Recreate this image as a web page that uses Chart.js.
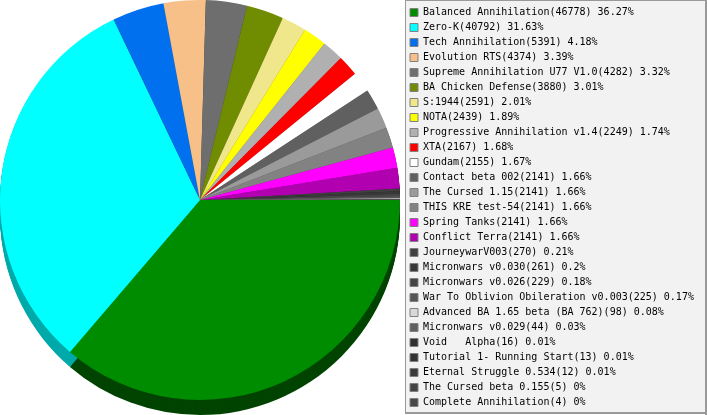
<!DOCTYPE html>
<html>
<head>
<meta charset="utf-8">
<script src="https://cdn.jsdelivr.net/npm/chart.js@4"></script>
<style>
html,body{margin:0;padding:0;background:#fff;}
#c{display:block;}
</style>
</head>
<body>
<canvas id="c" width="707" height="415"></canvas>
<script>
const names = [
  "Balanced Annihilation", "Zero-K", "Tech Annihilation", "Evolution RTS",
  "Supreme Annihilation U77 V1.0", "BA Chicken Defense", "S:1944", "NOTA",
  "Progressive Annihilation v1.4", "XTA", "Gundam", "Contact beta 002",
  "The Cursed 1.15", "THIS KRE test-54", "Spring Tanks", "Conflict Terra",
  "JourneywarV003", "Micronwars v0.030", "Micronwars v0.026",
  "War To Oblivion Obileration v0.003", "Advanced BA 1.65 beta (BA 762)",
  "Micronwars v0.029", "Void   Alpha", "Tutorial 1- Running Start",
  "Eternal Struggle 0.534", "The Cursed beta 0.155", "Complete Annihilation"
];
const values = [46778, 40792, 5391, 4374, 4282, 3880, 2591, 2439, 2249, 2167, 2155,
  2141, 2141, 2141, 2141, 2141, 270, 261, 229, 225, 98, 44, 16, 13, 12, 5, 4];
const percents = ["36.27", "31.63", "4.18", "3.39", "3.32", "3.01", "2.01", "1.89", "1.74",
  "1.68", "1.67", "1.66", "1.66", "1.66", "1.66", "1.66", "0.21", "0.2", "0.18", "0.17",
  "0.08", "0.03", "0.01", "0.01", "0.01", "0", "0"];
const colors = ["#008c00", "#00ffff", "#0070ee", "#f6c088", "#6e6e6e", "#708c00", "#f0e68c",
  "#ffff00", "#b0b0b0", "#ff0000", "#ffffff", "#606060", "#9a9a9a", "#828282", "#ff00ff",
  "#b000b0", "#404040", "#383838", "#454545", "#555555", "#d8d8d8", "#606060", "#303030",
  "#333333", "#3a3a3a", "#444444", "#484848"];
const shadowColors = ["#004400", "#00aaaa"];

function darken(hex, f) {
  const n = parseInt(hex.slice(1), 16);
  const r = Math.round(((n >> 16) & 255) * f), g = Math.round(((n >> 8) & 255) * f), b = Math.round((n & 255) * f);
  return `rgb(${r},${g},${b})`;
}

const layoutFix = {
  id: 'layoutFix',
  afterLayout(chart) {
    const ca = chart.chartArea;
    ca.left = 0; ca.top = 0; ca.right = 400; ca.bottom = 400; ca.width = 400; ca.height = 400;
    const lg = chart.legend;
    if (lg) { lg.left = 405; lg.right = 706; lg.width = 301; lg.top = 0; lg.bottom = 415; lg.height = 415; }
  },
  beforeDraw(chart) {
    const ctx = chart.ctx;
    ctx.save();
    ctx.fillStyle = '#f2f2f2';
    ctx.fillRect(405, 0, 301, 413);
    ctx.strokeStyle = '#999999';
    ctx.lineWidth = 1;
    ctx.strokeRect(405.5, 0.5, 300, 412);
    ctx.fillStyle = '#999999';
    ctx.fillRect(705, 0, 2, 415);
    ctx.fillRect(405, 412, 302, 2);
    ctx.restore();
  }
};

const depth3d = {
  id: 'depth3d',
  beforeDatasetsDraw(chart) {
    const ctx = chart.ctx;
    const meta = chart.getDatasetMeta(0);
    const depth = 15;
    ctx.save();
    meta.data.forEach((arc, i) => {
      const p = arc.getProps(['x', 'y', 'startAngle', 'endAngle', 'outerRadius'], true);
      ctx.fillStyle = shadowColors[i] || darken(colors[i], 0.55);
      for (let d = depth; d >= 1; d--) {
        ctx.beginPath();
        ctx.moveTo(p.x, p.y + d);
        ctx.arc(p.x, p.y + d, p.outerRadius, p.startAngle, p.endAngle);
        ctx.closePath();
        ctx.fill();
      }
    });
    ctx.restore();
  }
};

new Chart(document.getElementById('c'), {
  type: 'pie',
  data: {
    labels: names,
    datasets: [{
      data: values,
      backgroundColor: colors,
      borderWidth: 0,
      hoverOffset: 0
    }]
  },
  options: {
    responsive: false,
    animation: false,
    events: [],
    rotation: 90,
    devicePixelRatio: 1,
    layout: { padding: 0 },
    plugins: {
      tooltip: { enabled: false },
      legend: {
        position: 'right',
        align: 'center',
        labels: {
          boxWidth: 8,
          boxHeight: 8,
          padding: 5,
          color: '#000000',
          font: { family: 'DejaVu Sans Mono', size: 10 },
          generateLabels: () => names.map((n, i) => ({
            text: `${n}(${values[i]}) ${percents[i]}%`,
            fillStyle: colors[i],
            strokeStyle: '#808080',
            lineWidth: 1,
            fontColor: '#000000',
            hidden: false,
            index: i
          }))
        }
      }
    }
  },
  plugins: [layoutFix, depth3d]
});
</script>
</body>
</html>
